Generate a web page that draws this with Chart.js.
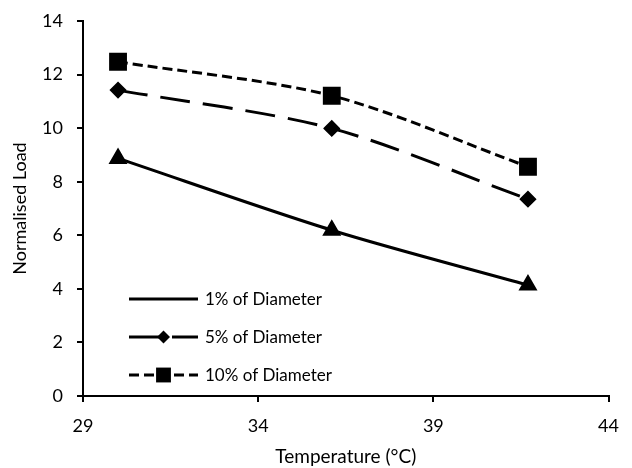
<!DOCTYPE html>
<html>
<head>
<meta charset="utf-8">
<script src="https://cdn.jsdelivr.net/npm/chart.js@4/dist/chart.umd.min.js"></script>
<style>
  html, body { margin: 0; padding: 0; background: #fff; }
  #wrap { width: 632px; height: 468px; }
</style>
</head>
<body>
<div id="wrap"><canvas id="loadChart" width="632" height="468"></canvas></div>
<script>
// Values
const temperatures = [30.0, 36.1, 41.7];
const load1pct = [8.87, 6.19, 4.14];
const load5pct = [11.42, 9.99, 7.35];
const load10pct = [12.48, 11.21, 8.56];

const seriesLabels = ['1% of Diameter', '5% of Diameter', '10% of Diameter'];
const xTicks = [29, 34, 39, 44];
const yTicks = [0, 2, 4, 6, 8, 10, 12, 14];

const FONT = 'Lato, "Open Sans", sans-serif';
const ctx = document.getElementById('loadChart').getContext('2d');

function toPoints(values) {
    return values.map((v, i) => ({ x: temperatures[i], y: v }));
}

// draws a marker shape at (x, y) for the legend
function drawMarker(c, style, x, y, r) {
    c.beginPath();
    if (style === 'rectRot') {
        c.moveTo(x - r, y); c.lineTo(x, y - r); c.lineTo(x + r, y); c.lineTo(x, y + r);
    } else if (style === 'rect') {
        const s = r * Math.SQRT1_2;
        c.rect(x - s, y - s, 2 * s, 2 * s);
    } else if (style === 'triangle') {
        c.moveTo(x, y - r); c.lineTo(x + r * 0.866, y + r * 0.5); c.lineTo(x - r * 0.866, y + r * 0.5);
    }
    c.closePath();
    c.fill();
}

// Legend sits inside the plot, lower left, like the original
const insideLegend = {
    id: 'insideLegend',
    afterDraw(chart) {
        const c = chart.ctx;
        const area = chart.chartArea;
        const x0 = area.left + 46, x1 = area.left + 115;
        const rows = [area.bottom - 97, area.bottom - 59, area.bottom - 21];
        c.save();
        chart.data.datasets.forEach((ds, i) => {
            const y = rows[i];
            c.strokeStyle = '#000';
            c.fillStyle = '#000';
            c.lineWidth = ds.borderWidth;
            c.setLineDash(ds.borderDash || []);
            c.beginPath();
            c.moveTo(x0, y);
            c.lineTo(x1, y);
            c.stroke();
            c.setLineDash([]);
            if (ds.legendMarker) {
                drawMarker(c, ds.pointStyle, (x0 + x1) / 2, y, ds.pointRadius);
            }
            c.font = '17px ' + FONT;
            c.textBaseline = 'middle';
            c.textAlign = 'left';
            c.fillText(ds.label, x1 + 7, y + 1);
        });
        c.restore();
    }
};

const myChart = new Chart(ctx, {
    type: 'scatter',
    data: {
        datasets: [
            {
                label: seriesLabels[0],
                data: toPoints(load1pct),
                showLine: true,
                borderColor: '#000',
                backgroundColor: '#000',
                borderWidth: 3,
                tension: 0.3,
                pointStyle: 'triangle',
                pointRadius: 8,
                legendMarker: false
            },
            {
                label: seriesLabels[1],
                data: toPoints(load5pct),
                showLine: true,
                borderColor: '#000',
                backgroundColor: '#000',
                borderWidth: 3,
                borderDash: [30, 13],
                tension: 0.3,
                pointStyle: 'rectRot',
                pointRadius: 6.5,
                legendMarker: true
            },
            {
                label: seriesLabels[2],
                data: toPoints(load10pct),
                showLine: true,
                borderColor: '#000',
                backgroundColor: '#000',
                borderWidth: 3,
                borderDash: [10, 5],
                tension: 0.3,
                pointStyle: 'rect',
                pointRadius: 10.5,
                legendMarker: true
            }
        ]
    },
    options: {
        responsive: false,
        animation: false,
        layout: { padding: { top: 21, right: 22, bottom: 0, left: 0 } },
        plugins: {
            legend: { display: false },
            tooltip: { enabled: false }
        },
        scales: {
            x: {
                type: 'linear',
                min: 29,
                max: 44,
                afterBuildTicks: axis => { axis.ticks = xTicks.map(v => ({ value: v })); },
                afterFit: axis => { axis.height = 72; },
                border: { color: '#000', width: 2 },
                grid: { drawOnChartArea: false, drawTicks: true, tickLength: 6, color: '#000', lineWidth: 2 },
                ticks: { color: '#000', font: { family: FONT, size: 18 }, padding: 13 },
                title: { display: true, text: 'Temperature (°C)', color: '#000', font: { family: FONT, size: 19 }, padding: 0 }
            },
            y: {
                min: 0,
                max: 14,
                afterBuildTicks: axis => { axis.ticks = yTicks.map(v => ({ value: v })); },
                afterFit: axis => {
                    axis.width = 83;
                    // keep the plot top fixed by the layout padding only
                    axis.paddingTop = 0;
                    axis.paddingBottom = 0;
                },
                border: { color: '#000', width: 2 },
                grid: { drawOnChartArea: false, drawTicks: true, tickLength: 6, color: '#000', lineWidth: 2 },
                ticks: { color: '#000', font: { family: FONT, size: 18 }, padding: 14 },
                title: { display: true, text: 'Normalised Load', color: '#000', font: { family: FONT, size: 18 }, padding: { top: 9, bottom: 0 } }
            }
        }
    },
    plugins: [insideLegend]
});
</script>
</body>
</html>
